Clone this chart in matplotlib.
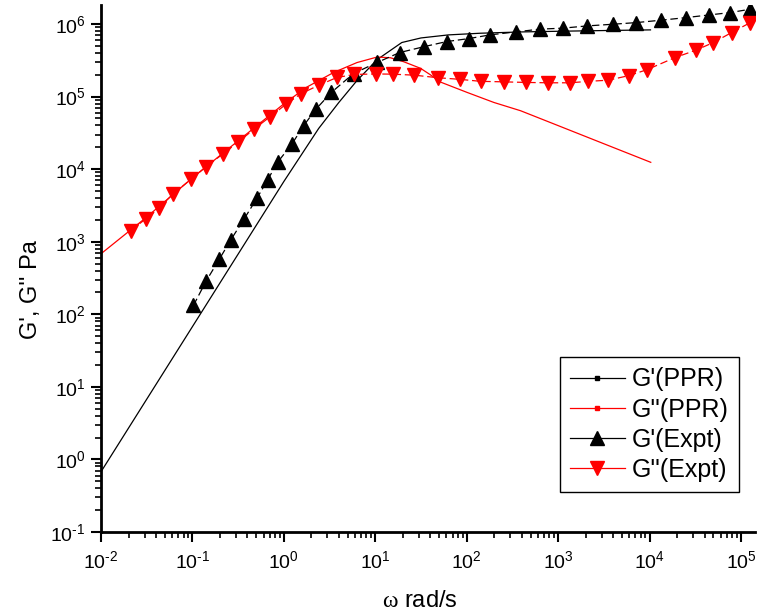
import matplotlib
matplotlib.use("Agg")
import matplotlib.pyplot as plt
from matplotlib.lines import Line2D
from matplotlib.ticker import LogLocator, NullFormatter, FuncFormatter
import numpy as np

plt.rcParams['font.family'] = ['Liberation Sans', 'DejaVu Sans']
plt.rcParams['mathtext.fontset'] = 'custom'
plt.rcParams['mathtext.rm'] = 'Liberation Sans'
plt.rcParams['mathtext.sf'] = 'Liberation Serif'
plt.rcParams['mathtext.default'] = 'regular'
plt.rcParams['axes.unicode_minus'] = False

# ---- data ----
gpp_expt_w = [0.0211, 0.0309, 0.0432, 0.0619, 0.0959, 0.141, 0.215, 0.319, 0.468, 0.71,
              1.05, 1.54, 2.40, 3.80, 5.90, 10.2, 15.5, 26.8, 48.3, 83.4, 142, 255, 442,
              782, 1346, 2143, 3548, 5970, 9333, 19010, 32060, 49660, 78890, 126200]
gpp_expt = [1426, 2065, 2924, 4603, 7211, 10814, 16180, 23770, 35320, 52970,
            77980, 109650, 142890, 183230, 201840, 205110, 203700, 197240, 181970, 172980,
            162180, 159590, 156680, 154880, 154880, 162180, 168270, 194980, 234420,
            345140, 435510, 554620, 762080, 1044700]

gp_expt_w = [0.1026, 0.141, 0.196, 0.263, 0.368, 0.507, 0.664, 0.853, 1.227, 1.644,
             2.249, 3.304, 5.794, 10.47, 18.49, 34.51, 60.12, 105.4, 179.1, 342.0,
             626.6, 1127, 2084, 3981, 7063, 13240, 24890, 44870, 75510, 126200]
gp_expt = [132.4, 286.4, 568.9, 1062, 2065, 3963, 7096, 12420, 22230, 39720,
           67300, 114000, 207970, 295120, 404570, 488650, 572800, 629500, 707950, 778030,
           849180, 877000, 941890, 993100, 1044700, 1127200, 1224600, 1333500, 1435500, 1599600]

gp_ppr_w = [0.01, 0.1, 1, 2.4, 4.0, 6.3, 10.5, 19.5, 31.6, 63, 141, 398, 1000, 3162, 10230]
gp_ppr = [0.676, 67.6, 6761, 36300, 83200, 166000, 323600, 555900, 642700, 707900,
          746500, 778000, 794300, 812800, 829900]

gpp_ppr_w = [0.01, 0.0316, 0.1, 0.316, 1, 1.78, 3.50, 6.31, 10.47, 14.62, 20.46, 31.19,
             40.09, 51.64, 101.2, 198.2, 388.1, 1000, 3162, 10300]
gpp_ppr = [682.3, 2188, 7586, 24550, 79430, 134900, 214800, 294400, 350800, 342800,
           302000, 245500, 199500, 158500, 114000, 82990, 63830, 39810, 22390, 12420]

labels = ["G'(PPR)", "G''(PPR)", "G'(Expt)", "G''(Expt)"]


def pow10(v, pos):
    e = int(round(np.log10(v)))
    if e < 0:
        return r'$10^{\text{-}%d}$' % (-e)
    return r'$10^{%d}$' % e


# ---- figure ----
fig = plt.figure(figsize=(7.58, 6.16), dpi=100)
ax = fig.add_axes([101/758, (616-532)/616, (755-101)/758, (532-5)/616])

ax.plot(gp_ppr_w, gp_ppr, color='black', lw=0.9)
ax.plot(gpp_ppr_w, gpp_ppr, color='red', lw=0.9)
ax.plot(gp_expt_w, gp_expt, color='black', lw=0.9, ls=(0, (6, 3)),
        marker='^', ms=9.5, mec='black', mfc='black')
ax.plot(gpp_expt_w, gpp_expt, color='red', lw=0.9, ls=(0, (6, 3)),
        marker='v', ms=9.5, mec='red', mfc='red')

ax.set_xscale('log')
ax.set_yscale('log')
ax.set_xlim(1e-2, 10**5.153)
ax.set_ylim(1e-1, 10**6.262)

for s in ['top', 'right']:
    ax.spines[s].set_visible(False)
for s in ['left', 'bottom']:
    ax.spines[s].set_linewidth(2)

ax.xaxis.set_major_locator(LogLocator(base=10, numticks=20))
ax.yaxis.set_major_locator(LogLocator(base=10, numticks=20))
ax.xaxis.set_minor_locator(LogLocator(base=10, subs=range(2, 10), numticks=20))
ax.yaxis.set_minor_locator(LogLocator(base=10, subs=range(2, 10), numticks=20))
ax.xaxis.set_major_formatter(FuncFormatter(pow10))
ax.yaxis.set_major_formatter(FuncFormatter(pow10))
ax.xaxis.set_minor_formatter(NullFormatter())
ax.yaxis.set_minor_formatter(NullFormatter())
ax.tick_params(which='major', direction='out', length=7, width=1.5, labelsize=14)
ax.tick_params(axis='x', which='major', pad=6)
ax.tick_params(axis='y', which='major', pad=4)
ax.tick_params(which='minor', direction='out', length=4, width=1.2)

ax.set_xlabel(r"$\mathsf{\omega}$ rad/s", fontsize=17)
ax.set_ylabel("G', G'' Pa", fontsize=17)
ax.xaxis.set_label_coords(0.488, -0.11)
ax.xaxis.label.set_va('top')
ax.yaxis.set_label_coords(-0.09, 0.46)

handles = [
    Line2D([], [], color='black', lw=0.9, marker='s', ms=2.5),
    Line2D([], [], color='red', lw=0.9, marker='s', ms=2.5),
    Line2D([], [], color='black', lw=0.9, marker='^', ms=9.5),
    Line2D([], [], color='red', lw=0.9, marker='v', ms=9.5),
]
leg = ax.legend(handles, labels, loc='lower right', bbox_to_anchor=(0.9755, 0.0759),
                fontsize=18, frameon=True, fancybox=False, framealpha=1,
                edgecolor='black', handlelength=2.2, handletextpad=0.3,
                labelspacing=0.25, borderpad=0.4, borderaxespad=0)
leg.get_frame().set_linewidth(1)

fig.savefig('out.png', dpi=100)
